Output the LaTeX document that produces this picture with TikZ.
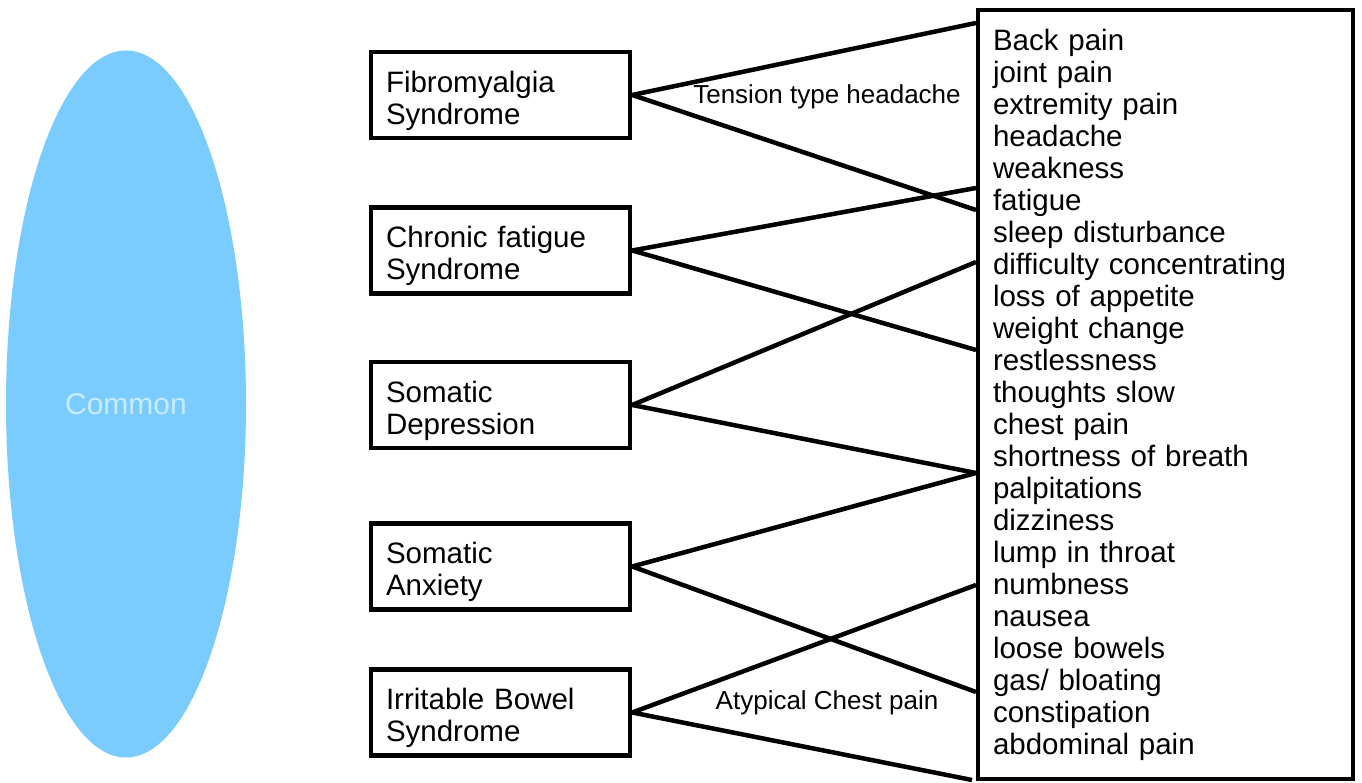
\documentclass[tikz,border=0pt]{standalone}
\usepackage{fontspec}
\setmainfont{Liberation Sans}
\usepackage{xcolor}

\definecolor{commonblue}{RGB}{122,204,255}
\definecolor{commontext}{RGB}{200,235,255}

\begin{document}
\begin{tikzpicture}[
    x=1pt, y=1pt,
    syndrome/.style={
        rectangle,
        draw,
        line width=4.5pt,
        minimum width=259pt,
        minimum height=86pt,
        text width=229pt,
        inner xsep=15pt,
        align=left,
        execute at begin node={\rule{0pt}{33pt}},
        font=\fontsize{29.5}{32}\selectfont
    },
    symptoms/.style={
        rectangle,
        draw,
        line width=4.5pt,
        minimum width=375pt,
        minimum height=769pt,
        text width=345pt,
        inner xsep=15pt,
        align=left,
        font=\fontsize{29.5}{32}\selectfont
    },
    link/.style={draw, line width=4.5pt},
    linklabel/.style={font=\fontsize{26}{28}\selectfont}
]
\useasboundingbox (0,0) rectangle (1362,783);

% Common ellipse
\fill[commonblue] (126,379) ellipse [x radius=120, y radius=353.5];
\node[text=commontext, font=\fontsize{30}{34}\selectfont] (common) at (126,379) {Common};

% Syndrome boxes
\node[syndrome] (fibro) at (500.5,688) {Fibromyalgia\\Syndrome};
\node[syndrome] (chronic) at (500.5,532.5) {Chronic fatigue\\Syndrome};
\node[syndrome] (depression) at (500.5,378) {Somatic\\Depression};
\node[syndrome] (anxiety) at (500.5,216.5) {Somatic\\Anxiety};
\node[syndrome] (ibs) at (500.5,70.5) {Irritable Bowel\\Syndrome};

% Symptom list
\node[symptoms] (list) at (1165.5,388.5) {
    Back pain\\
    joint pain\\
    extremity pain\\
    headache\\
    weakness\\
    fatigue\\
    sleep disturbance\\
    difficulty concentrating\\
    loss of appetite\\
    weight change\\
    restlessness\\
    thoughts slow\\
    chest pain\\
    shortness of breath\\
    palpitations\\
    dizziness\\
    lump in throat\\
    numbness\\
    nausea\\
    loose bowels\\
    gas/ bloating\\
    constipation\\
    abdominal pain
};

% End points on the list
\coordinate (backpain) at (976,760);
\coordinate (sleep) at (976,573);
\coordinate (fatigue) at (976,595);
\coordinate (restless) at (976,433);
\coordinate (difficulty) at (976,521);
\coordinate (shortness) at (976,310);
\coordinate (gas) at (976,91);
\coordinate (numbness) at (976,198);
\coordinate (corner) at (972,3);

% Connectors
\draw[link] (fibro.east) -- (backpain);
\draw[link] (fibro.east) -- (sleep);
\draw[link] (chronic.east) -- (fatigue);
\draw[link] (chronic.east) -- (restless);
\draw[link] (depression.east) -- (difficulty);
\draw[link] (depression.east) -- (shortness);
\draw[link] (anxiety.east) -- (shortness);
\draw[link] (anxiety.east) -- (gas);
\draw[link] (ibs.east) -- (numbness);
\draw[link] (ibs.east) -- (corner);

% Labels
\node[linklabel] (tension) at (827,686) {Tension type headache};
\node[linklabel] (atypical) at (827,80) {Atypical Chest pain};

\end{tikzpicture}
\end{document}
